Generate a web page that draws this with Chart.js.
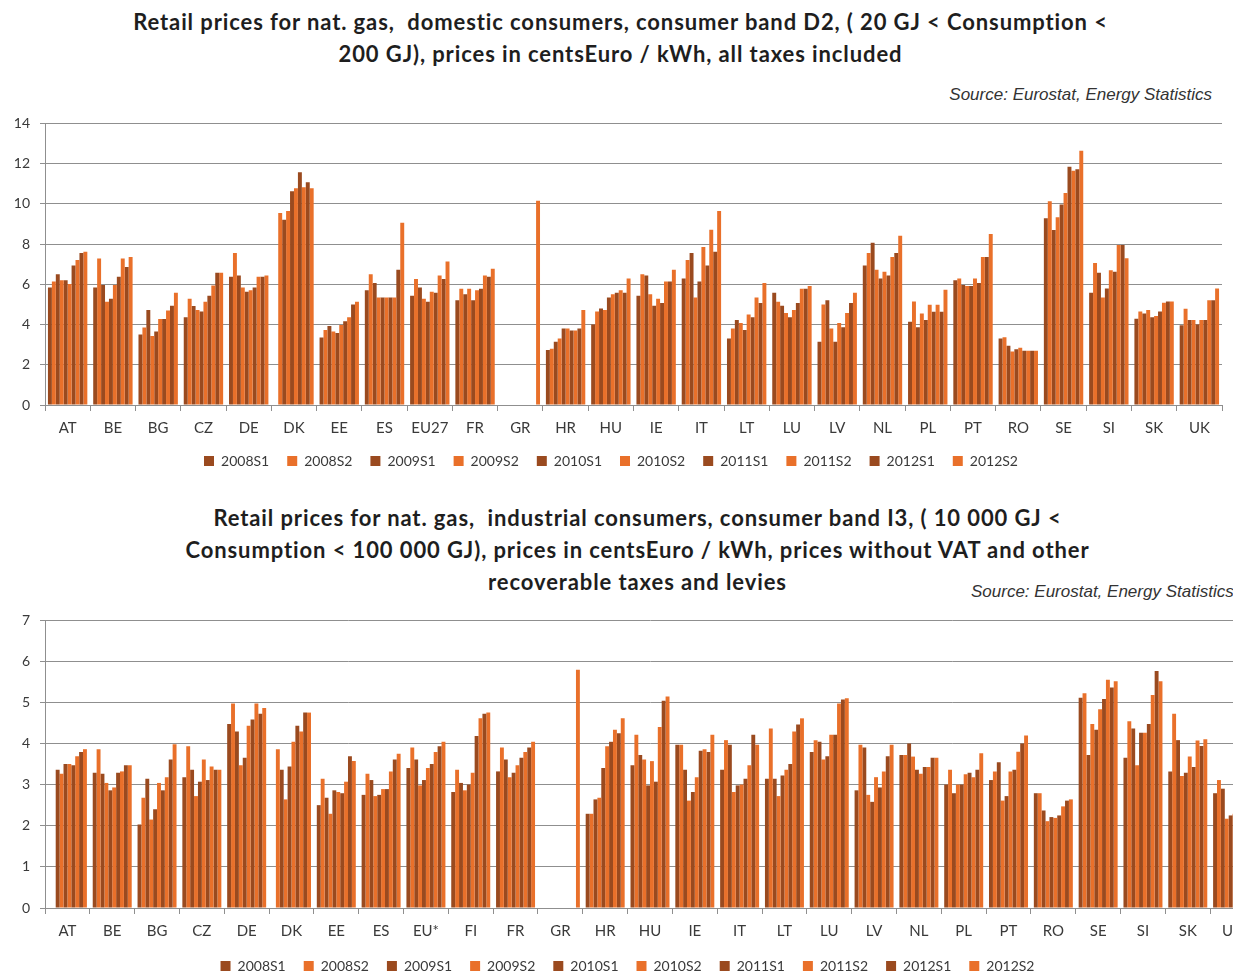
<!DOCTYPE html>
<html>
<head>
<meta charset="utf-8">
<title>Retail prices for nat. gas</title>
<script src="https://cdn.jsdelivr.net/npm/chart.js@4.4.1/dist/chart.umd.min.js"></script>
<style>
    html, body { margin: 0; padding: 0; background: #fff; }
    body { width: 1241px; height: 974px; overflow: hidden; position: relative; font-family: Lato, sans-serif; }
    .title { position: absolute; left: 0; text-align: center; font-weight: bold; font-size: 22px; letter-spacing: 0.9px; line-height: 32px; color: #1e1e1e; white-space: pre; }
    .source { position: absolute; font-family: "Liberation Sans", Arial, sans-serif; font-style: italic; font-size: 17px; color: #333; white-space: nowrap; }
    .box { position: absolute; left: 0; overflow: hidden; }
    canvas { position: absolute; left: 0; }
</style>
</head>
<body>

<div class="title" style="top: 6px; width: 1241px;">Retail prices for nat. gas,  domestic consumers, consumer band D2, ( 20 GJ &lt; Consumption &lt;
200 GJ), prices in centsEuro / kWh, all taxes included</div>
<div class="source" style="top: 85px; right: 29px;">Source: Eurostat, Energy Statistics</div>
<div class="box" style="top: 105px; width: 1241px; height: 373px;">
    <canvas id="domesticChart" width="1241" height="373" style="top: 0; width: 1241px; height: 373px;"></canvas>
</div>

<div class="title" style="top: 502px; width: 1275px;">Retail prices for nat. gas,  industrial consumers, consumer band I3, ( 10 000 GJ &lt;
Consumption &lt; 100 000 GJ), prices in centsEuro / kWh, prices without VAT and other
recoverable taxes and levies</div>
<div class="box" style="top: 575px; width: 1233px; height: 399px;">
    <div class="source" style="top: 7px; left: 971px;">Source: Eurostat, Energy Statistics</div>
    <canvas id="industrialChart" width="1270" height="383" style="top: 25px; width: 1270px; height: 383px;"></canvas>
</div>

<script>

// Periods
const periods = ['2008S1', '2008S2', '2009S1', '2009S2', '2010S1', '2010S2', '2011S1', '2011S2', '2012S1', '2012S2'];

// Domestic Countries
const domesticCountries = ['AT', 'BE', 'BG', 'CZ', 'DE', 'DK', 'EE', 'ES', 'EU27', 'FR', 'GR', 'HR', 'HU', 'IE', 'IT', 'LT', 'LU', 'LV', 'NL', 'PL', 'PT', 'RO', 'SE', 'SI', 'SK', 'UK'];

// Domestic Prices (one row per country, one value per period)
const domesticPrices = [
    [5.84, 6.14, 6.5, 6.2, 6.2, 6.01, 6.93, 7.21, 7.56, 7.62],
    [5.84, 7.28, 5.97, 5.13, 5.28, 5.97, 6.37, 7.28, 6.86, 7.36],
    [3.5, 3.85, 4.72, 3.43, 3.65, 4.27, 4.27, 4.7, 4.93, 5.58],
    [4.36, 5.28, 4.92, 4.72, 4.65, 5.13, 5.43, 5.94, 6.57, 6.57],
    [6.37, 7.56, 6.44, 5.84, 5.63, 5.71, 5.84, 6.37, 6.37, 6.44],
    [null, 9.55, 9.21, 9.64, 10.63, 10.78, 11.57, 10.83, 11.07, 10.78],
    [3.35, 3.73, 3.93, 3.65, 3.58, 3.98, 4.16, 4.36, 5.0, 5.13],
    [5.71, 6.5, 6.07, 5.35, 5.35, 5.35, 5.35, 5.35, 6.72, 9.06],
    [5.43, 6.27, 5.84, 5.28, 5.13, 5.63, 5.58, 6.44, 6.27, 7.13],
    [5.21, 5.78, 5.5, 5.78, 5.21, 5.71, 5.78, 6.44, 6.37, 6.78],
    [null, null, null, null, null, null, null, null, null, 10.15],
    [2.74, 2.8, 3.15, 3.3, 3.8, 3.8, 3.71, 3.71, 3.8, 4.72],
    [4.0, 4.65, 4.8, 4.72, 5.35, 5.5, 5.58, 5.71, 5.58, 6.29],
    [5.43, 6.5, 6.44, 5.5, 4.93, 5.28, 5.07, 6.14, 6.14, 6.72],
    [6.29, 7.21, 7.56, 5.35, 6.14, 7.86, 6.93, 8.71, 7.62, 9.65],
    [3.3, 3.8, 4.22, 4.08, 3.73, 4.5, 4.36, 5.35, 5.07, 6.07],
    [5.58, 5.13, 4.93, 4.57, 4.36, 4.72, 5.07, 5.78, 5.78, 5.92],
    [3.15, 5.0, 5.21, 3.8, 3.15, 4.08, 3.86, 4.57, 5.07, 5.58],
    [6.93, 7.56, 8.07, 6.72, 6.29, 6.63, 6.44, 7.36, 7.56, 8.42],
    [4.14, 5.15, 3.86, 4.55, 4.22, 4.98, 4.64, 4.98, 4.64, 5.73],
    [6.2, 6.29, 5.97, 5.92, 5.92, 6.29, 6.07, 7.36, 7.36, 8.5],
    [3.3, 3.37, 2.94, 2.66, 2.77, 2.85, 2.7, 2.7, 2.7, 2.7],
    [9.29, 10.13, 8.7, 9.34, 9.97, 10.54, 11.85, 11.65, 11.72, 12.64],
    [5.58, 7.06, 6.57, 5.35, 5.79, 6.7, 6.63, 7.95, 7.95, 7.29],
    [4.29, 4.65, 4.55, 4.72, 4.36, 4.42, 4.65, 5.08, 5.15, 5.15],
    [3.96, 4.79, 4.22, 4.22, 4.0, 4.22, 4.22, 5.21, 5.21, 5.79]
];

// Industrial Countries
const industrialCountries = ['AT', 'BE', 'BG', 'CZ', 'DE', 'DK', 'EE', 'ES', 'EU*', 'FI', 'FR', 'GR', 'HR', 'HU', 'IE', 'IT', 'LT', 'LU', 'LV', 'NL', 'PL', 'PT', 'RO', 'SE', 'SI', 'SK', 'UK'];

// Industrial Prices (UK is cut off on the right of the picture)
const industrialPrices = [
    [null, null, 3.36, 3.26, 3.5, 3.5, 3.47, 3.69, 3.79, 3.86],
    [3.29, 3.86, 3.26, 3.04, 2.86, 2.93, 3.29, 3.32, 3.47, 3.47],
    [2.03, 2.68, 3.14, 2.15, 2.4, 3.04, 2.86, 3.18, 3.61, 3.98],
    [3.18, 3.93, 3.36, 2.72, 3.07, 3.61, 3.11, 3.44, 3.36, 3.36],
    [4.47, 4.97, 4.29, 3.47, 3.65, 4.43, 4.58, 4.97, 4.72, 4.86],
    [null, 3.86, 3.36, 2.64, 3.44, 4.04, 4.43, 4.29, 4.75, 4.75],
    [2.5, 3.14, 2.68, 2.29, 2.86, 2.82, 2.79, 3.07, 3.69, 3.57],
    [2.75, 3.26, 3.11, 2.72, 2.75, 2.89, 2.89, 3.32, 3.61, 3.75],
    [3.4, 3.9, 3.61, 2.98, 3.11, 3.4, 3.5, 3.79, 3.93, 4.04],
    [2.82, 3.36, 3.04, 2.86, 3.0, 3.29, 4.18, 4.61, 4.72, 4.75],
    [3.32, 3.9, 3.61, 3.18, 3.29, 3.47, 3.65, 3.79, 3.9, 4.04],
    [null, null, null, null, null, null, null, null, null, 5.79],
    [2.29, 2.29, 2.64, 2.68, 3.4, 3.93, 4.04, 4.33, 4.25, 4.61],
    [3.47, 4.21, 3.72, 3.61, 2.98, 3.57, 3.07, 4.4, 5.04, 5.14],
    [3.97, 3.97, 3.36, 2.61, 2.82, 3.18, 3.82, 3.86, 3.79, 4.21],
    [3.36, 4.08, 3.97, 2.82, 2.98, 3.0, 3.14, 3.47, 4.21, 3.97],
    [3.14, 4.36, 3.14, 2.72, 3.22, 3.36, 3.5, 4.29, 4.46, 4.61],
    [3.79, 4.08, 4.04, 3.61, 3.69, 4.21, 4.21, 4.97, 5.07, 5.1],
    [2.86, 3.97, 3.9, 2.75, 2.58, 3.18, 2.93, 3.32, 3.69, 3.97],
    [3.72, 3.72, 4.0, 3.68, 3.36, 3.26, 3.43, 3.43, 3.65, 3.65],
    [3.0, 3.36, 2.79, 3.0, 3.0, 3.25, 3.29, 3.18, 3.36, 3.76],
    [3.11, 3.32, 3.54, 2.61, 2.72, 3.32, 3.36, 3.8, 4.0, 4.19],
    [2.79, 2.79, 2.37, 2.11, 2.21, 2.19, 2.25, 2.47, 2.61, 2.64],
    [5.11, 5.22, 3.72, 4.47, 4.33, 4.83, 5.08, 5.55, 5.36, 5.51],
    [3.65, 4.54, 4.36, 3.47, 4.26, 4.26, 4.47, 5.18, 5.76, 5.51],
    [3.32, 4.72, 4.08, 3.21, 3.29, 3.68, 3.43, 4.07, 3.94, 4.1],
    [2.79, 3.11, 2.9, 2.17, 2.25, 2.29, null, null, null, null]
];

// Colors
const darkColor = '#9a4a1f';
const orangeColor = '#e9702a';
const gridColor = '#8f8f8f';
const textColor = '#3a3a3a';

// Build Datasets
const makeDatasets = function (rows) {

    // One dataset per period
    return periods.map(function (period, p) {
        return {
            label: period,
            data: rows.map(function (row) { return row[p]; }),
            backgroundColor: (p % 2 === 0) ? darkColor : orangeColor,
            borderWidth: 0,
            barPercentage: 1,
            categoryPercentage: 0.87
        };
    });

};

// Create Chart
const makeChart = function (id, countries, rows, maxY, stepY, padding, axisHeight) {

    const ctx = document.getElementById(id).getContext('2d');
    return new Chart(ctx, {
        type: 'bar',
        data: {
            labels: countries,
            datasets: makeDatasets(rows)
        },
        options: {
            responsive: false,
            animation: false,
            devicePixelRatio: 1,
            layout: { padding: padding },
            plugins: {
                tooltip: { enabled: false },
                legend: {
                    position: 'bottom',
                    labels: {
                        boxWidth: 10,
                        boxHeight: 10,
                        padding: 18,
                        color: textColor,
                        font: { family: 'Lato', size: 14 }
                    }
                }
            },
            scales: {
                x: {
                    afterFit: function (scale) { scale.height = axisHeight; },
                    grid: { offset: true, drawOnChartArea: false, drawTicks: true, tickLength: 6, color: gridColor },
                    border: { color: gridColor },
                    ticks: { color: textColor, padding: 8, font: { family: 'Lato', size: 15 } }
                },
                y: {
                    min: 0,
                    max: maxY,
                    afterFit: function (scale) { scale.width = 45; },
                    grid: { color: gridColor, tickLength: 5 },
                    border: { color: gridColor },
                    ticks: { stepSize: stepY, color: textColor, padding: 10, font: { family: 'Lato', size: 14 } }
                }
            }
        }
    });

};

// Draw Both Charts
makeChart('domesticChart', domesticCountries, domesticPrices, 14, 2, { top: 18, right: 19, bottom: 0, left: 0 }, 31);
makeChart('industrialChart', industrialCountries, industrialPrices, 7, 1, { top: 20, right: 15, bottom: 0, left: 0 }, 33);

</script>
</body>
</html>
